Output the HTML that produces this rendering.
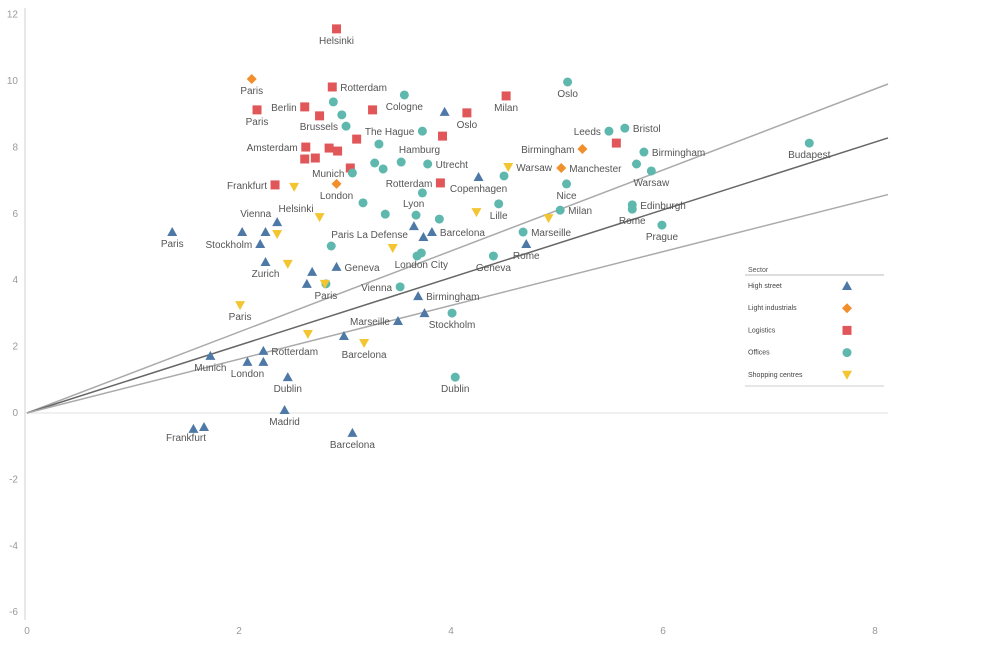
<!DOCTYPE html>
<html><head><meta charset="utf-8"><style>
body{margin:0;background:#fff;width:998px;height:644px;overflow:hidden;font-family:"Liberation Sans",sans-serif}
svg text{font-family:"Liberation Sans",sans-serif}
</style></head><body>
<svg id="chart" width="998" height="644" xmlns="http://www.w3.org/2000/svg">
<g id="axes"></g>
<g id="reflines"></g>
<g id="marks"></g>
<g id="legend" font-size="7" fill="#444">
<text x="748" y="272" fill="#555">Sector</text>
<line x1="745" y1="275" x2="884" y2="275" stroke="#bbb"/>
<line x1="745" y1="386" x2="884" y2="386" stroke="#ccc"/>
</g>
</svg>
<script>
const xTicks=[0,2,4,6,8];
const yTicks=[12,10,8,6,4,2,0,-2,-4,-6];
const slopes=[1.22,1.02,0.81];
const sectors=["High street","Light industrials","Logistics","Offices","Shopping centres"];
const logistics=[[2.92,11.57,"Helsinki","b"],[2.88,9.82,"Rotterdam","r"],[2.62,9.22,"Berlin","l"],[2.17,9.13,"Paris","b"],[2.76,8.95,"",""],[3.26,9.13,"",""],[3.11,8.25,"",""],[2.63,8.01,"Amsterdam","l"],[2.85,7.98,"",""],[2.93,7.89,"",""],[2.62,7.65,"",""],[2.72,7.68,"",""],[3.05,7.38,"",""],[2.34,6.87,"Frankfurt","l"],[4.15,9.04,"Oslo","b"],[3.92,8.34,"",""],[4.52,9.55,"Milan","b"],[3.90,6.93,"Rotterdam","l"],[5.56,8.13,"",""]];
const light=[[2.12,10.06,"Paris","b"],[2.92,6.90,"London","b"],[5.24,7.95,"Birmingham","l"],[5.04,7.38,"Manchester","r"]];
const offices=[[2.89,9.37,"",""],[3.56,9.58,"Cologne","b"],[2.97,8.98,"",""],[3.01,8.64,"Brussels","l"],[3.73,8.49,"The Hague","l"],[3.32,8.10,"Hamburg","br"],[3.28,7.53,"",""],[3.36,7.35,"",""],[3.53,7.56,"",""],[3.78,7.50,"Utrecht","r"],[3.07,7.23,"Munich","l"],[3.73,6.63,"Lyon","bl"],[3.17,6.33,"",""],[3.38,5.99,"",""],[3.67,5.96,"",""],[3.89,5.84,"",""],[2.87,5.03,"Paris La Defense","ar"],[3.68,4.73,"",""],[3.72,4.82,"London City","b"],[2.82,3.89,"Paris","b"],[3.52,3.80,"Vienna","l"],[5.10,9.97,"Oslo","b"],[5.49,8.49,"Leeds","l"],[5.64,8.58,"Bristol","r"],[5.82,7.86,"Birmingham","r"],[5.75,7.50,"",""],[5.89,7.29,"Warsaw","b"],[4.50,7.14,"",""],[5.09,6.90,"Nice","b"],[4.45,6.30,"Lille","b"],[5.03,6.11,"Milan","r"],[5.71,6.27,"Edinburgh","r"],[5.71,6.14,"Rome","b"],[5.99,5.66,"Prague","b"],[4.68,5.45,"Marseille","r"],[4.40,4.73,"Geneva","b"],[7.38,8.13,"Budapest","b"],[4.01,3.01,"Stockholm","b"],[4.04,1.08,"Dublin","b"]];
const highStreet=[[1.37,5.45,"Paris","b"],[2.36,5.75,"Vienna","al"],[2.03,5.45,"",""],[2.25,5.45,"",""],[2.20,5.09,"Stockholm","l"],[2.25,4.55,"Zurich","b"],[2.69,4.25,"",""],[2.64,3.89,"",""],[2.92,4.40,"Geneva","r"],[3.65,5.63,"",""],[3.74,5.30,"",""],[3.82,5.45,"Barcelona","r"],[3.94,9.07,"",""],[4.26,7.11,"Copenhagen","b"],[4.71,5.09,"Rome","b"],[3.69,3.52,"Birmingham","r"],[3.75,3.01,"",""],[3.50,2.77,"Marseille","l"],[2.99,2.32,"",""],[2.23,1.87,"Rotterdam","r"],[1.73,1.72,"Munich","b"],[2.08,1.54,"London","b"],[2.23,1.54,"",""],[2.46,1.08,"Dublin","b"],[2.43,0.09,"Madrid","b"],[1.57,-0.48,"",""],[1.67,-0.42,"Frankfurt","bl"],[3.07,-0.60,"Barcelona","b"]];
const shopping=[[2.52,6.81,"",""],[2.76,5.90,"Helsinki","al"],[2.36,5.39,"",""],[2.46,4.49,"",""],[3.45,4.97,"",""],[2.81,3.89,"",""],[2.01,3.25,"Paris","b"],[2.65,2.38,"",""],[3.18,2.11,"Barcelona","b"],[4.54,7.41,"Warsaw","r"],[4.24,6.05,"",""],[4.92,5.87,"",""]];

const NS="http://www.w3.org/2000/svg";
const X=v=>27+v*106, Y=v=>413-v*33.2;
function mk(tag,attrs,parent){const e=document.createElementNS(NS,tag);for(const k in attrs)e.setAttribute(k,attrs[k]);parent.appendChild(e);return e;}
const axes=document.getElementById('axes');
let al=mk('line',{x1:25,y1:8,x2:25,y2:620,stroke:'#d0d0d0'},axes);


let zl=mk('line',{x1:25,y1:Y(0),x2:888,y2:Y(0),stroke:'#e2e2e2'},axes);


yTicks.forEach(t=>{const e=mk('text',{x:18,y:Y(t)+3,'text-anchor':'end','font-size':10,fill:'#999'},axes);e.textContent=t;

});
xTicks.forEach(t=>{const e=mk('text',{x:X(t),y:634,'text-anchor':'middle','font-size':10,fill:'#999'},axes);e.textContent=t;

});
const rl=document.getElementById('reflines');
slopes.forEach((s,i)=>{const xe=(888-27)/106;const e=mk('line',{x1:X(0),y1:Y(0),x2:888,y2:Y(s*xe),stroke:i==1?'#666':'#aaa','stroke-width':1.5},rl);

});
const colors=["#4e79a7","#f28e2b","#e15759","#5fb8ad","#f2c531"];
function shape(type,cx,cy,parent){
 let e;
 if(type==0)e=mk('polygon',{points:`${cx},${cy-5} ${cx+5},${cy+4} ${cx-5},${cy+4}`,fill:colors[0]},parent);
 else if(type==1)e=mk('polygon',{points:`${cx},${cy-5} ${cx+5},${cy} ${cx},${cy+5} ${cx-5},${cy}`,fill:colors[1]},parent);
 else if(type==2)e=mk('rect',{x:cx-4.5,y:cy-4.5,width:9,height:9,fill:colors[2]},parent);
 else if(type==3)e=mk('circle',{cx:cx,cy:cy,r:4.5,fill:colors[3]},parent);
 else e=mk('polygon',{points:`${cx-5},${cy-4} ${cx+5},${cy-4} ${cx},${cy+5}`,fill:colors[4]},parent);
 return e;
}
const marks=document.getElementById('marks');
const names=['high-street','light-industrial','logistics','office','shopping-centre'];
[highStreet,light,logistics,offices,shopping].forEach((arr,t)=>{
 arr.forEach(d=>{
  const cx=X(d[0]),cy=Y(d[1]);
  const e=shape(t,cx,cy,marks);
  
  
  if(d[2]){
   let tx=cx,ty=cy+15,anc='middle';const p=d[3];
   if(p=='l'){tx=cx-8;ty=cy+4;anc='end';}
   else if(p=='r'){tx=cx+8;ty=cy+4;anc='start';}
   else if(p=='al'){tx=cx-6;ty=cy-5;anc='end';}
   else if(p=='ar'){tx=cx+0;ty=cy-8;anc='start';}
   else if(p=='br'){tx=cx+20;ty=cy+9;anc='start';}
   else if(p=='bl'){tx=cx+2;ty=cy+14;anc='end';}
   const l=mk('text',{x:tx,y:ty,'text-anchor':anc,'font-size':10,fill:'#555'},marks);
   l.textContent=d[2];
   
   
  }
 });
});
const lg=document.getElementById('legend');
sectors.forEach((s,i)=>{const y=286+i*22.2;
 const t=mk('text',{x:748,y:y+2,fill:'#444','font-size':7},lg);t.textContent=s;
 
 
 const e=shape(i,847,y,lg);
 
 
});
</script>
</body></html>
